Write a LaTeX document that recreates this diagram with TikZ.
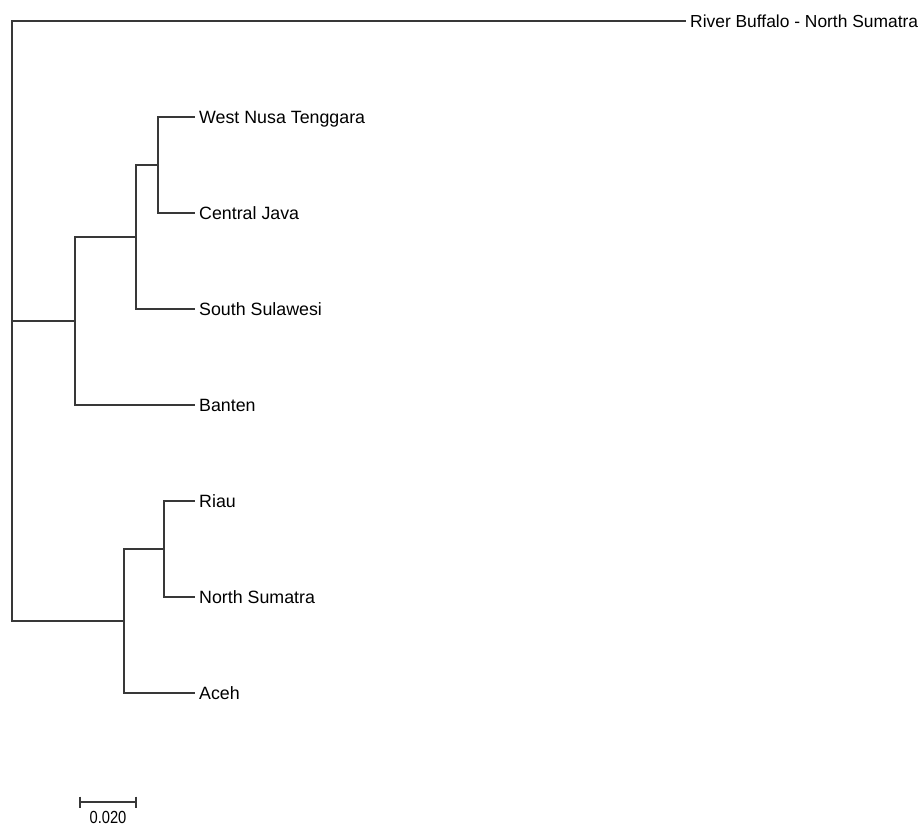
\documentclass[tikz,border=0pt]{standalone}
\usepackage{fontspec}
\setmainfont{Liberation Sans}
\begin{document}
\begin{tikzpicture}[x=1pt,y=-1pt,
  branch/.style={line width=1.3pt,color=black!78,line cap=rect},
  leaf/.style={anchor=base west,inner sep=0pt,xshift=5pt,yshift=-6.4pt,
    font=\fontsize{17.8}{21}\selectfont},
  scalelab/.style={anchor=base,inner sep=0pt,xscale=0.84,
    font=\fontsize{17.5}{21}\selectfont}]
\useasboundingbox (0,0) rectangle (921,825);
% internal nodes
\coordinate (root) at (12,321);
\coordinate (rtop) at (12,21);
\coordinate (rbot) at (12,621);
\coordinate (nA) at (75,321);
\coordinate (nB) at (136,237);
\coordinate (nC) at (158,165);
\coordinate (nD) at (124,621);
\coordinate (nE) at (164,549);
% leaf tips
\coordinate (tRB) at (685,21);
\coordinate (tWNT) at (194,117);
\coordinate (tCJ) at (194,213);
\coordinate (tSS) at (194,309);
\coordinate (tBA) at (194,405);
\coordinate (tRI) at (194,501);
\coordinate (tNS) at (194,597);
\coordinate (tAC) at (194,693);
% labels
\node[leaf,font=\fontsize{17.4}{21}\selectfont] (RB) at (tRB) {River Buffalo - North Sumatra};
\node[leaf] (WNT) at (tWNT) {West Nusa Tenggara};
\node[leaf] (CJ) at (tCJ) {Central Java};
\node[leaf] (SS) at (tSS) {South Sulawesi};
\node[leaf] (BA) at (tBA) {Banten};
\node[leaf] (RI) at (tRI) {Riau};
\node[leaf] (NS) at (tNS) {North Sumatra};
\node[leaf] (AC) at (tAC) {Aceh};
% branches
\draw[branch] (tRB) -- (rtop) -- (rbot) -- (nD);
\draw[branch] (root) -- (nA);
\draw[branch] (nA) |- (nB);
\draw[branch] (nA) |- (tBA);
\draw[branch] (nB) |- (nC);
\draw[branch] (nB) |- (tSS);
\draw[branch] (nC) |- (tWNT);
\draw[branch] (nC) |- (tCJ);
\draw[branch] (nD) |- (nE);
\draw[branch] (nD) |- (tAC);
\draw[branch] (nE) |- (tRI);
\draw[branch] (nE) |- (tNS);
% scale bar
\coordinate (sb1) at (80,802);
\coordinate (sb2) at (136,802);
\draw[branch,line cap=butt] (sb1) -- (sb2);
\draw[branch,line cap=butt] ([yshift=5.5pt]sb1) -- ([yshift=-5.5pt]sb1);
\draw[branch,line cap=butt] ([yshift=5.5pt]sb2) -- ([yshift=-5.5pt]sb2);
\node[scalelab] (SL) at (108,823) {0.020};
\end{tikzpicture}
\end{document}
